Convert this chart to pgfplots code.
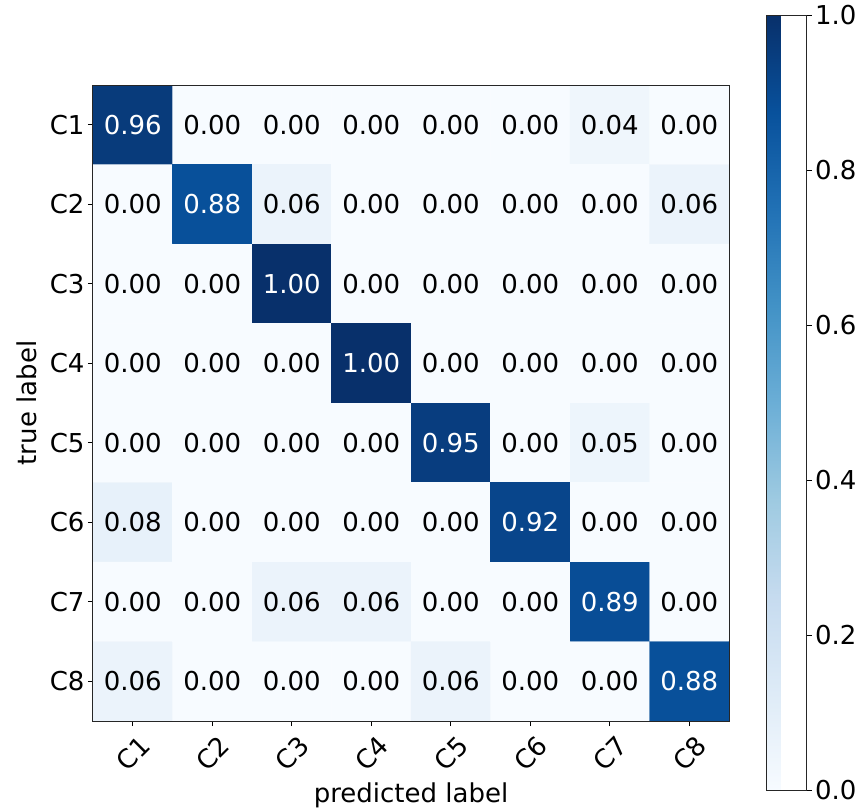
\documentclass[border=0pt]{standalone}
\usepackage{pgfplots}
\pgfplotsset{compat=1.18}
\usepackage{pgfplotstable}
\usepackage{fontspec}
\setmainfont{DejaVu Sans}
\newcommand{\fs}{\fontsize{26}{31}\selectfont}

\pgfplotstableread{
x y c
0 0 0.96
1 0 0.00
2 0 0.00
3 0 0.00
4 0 0.00
5 0 0.00
6 0 0.04
7 0 0.00
0 1 0.00
1 1 0.88
2 1 0.06
3 1 0.00
4 1 0.00
5 1 0.00
6 1 0.00
7 1 0.06
0 2 0.00
1 2 0.00
2 2 1.00
3 2 0.00
4 2 0.00
5 2 0.00
6 2 0.00
7 2 0.00
0 3 0.00
1 3 0.00
2 3 0.00
3 3 1.00
4 3 0.00
5 3 0.00
6 3 0.00
7 3 0.00
0 4 0.00
1 4 0.00
2 4 0.00
3 4 0.00
4 4 0.95
5 4 0.00
6 4 0.05
7 4 0.00
0 5 0.08
1 5 0.00
2 5 0.00
3 5 0.00
4 5 0.00
5 5 0.92
6 5 0.00
7 5 0.00
0 6 0.00
1 6 0.00
2 6 0.06
3 6 0.06
4 6 0.00
5 6 0.00
6 6 0.89
7 6 0.00
0 7 0.06
1 7 0.00
2 7 0.00
3 7 0.00
4 7 0.06
5 7 0.00
6 7 0.00
7 7 0.88
}\cm

\begin{document}
\begin{tikzpicture}
\begin{axis}[
  name=main,
  scale only axis,
  width=636pt, height=636pt,
  xmin=-0.5, xmax=7.5, ymin=-0.5, ymax=7.5,
  y dir=reverse,
  enlargelimits=false,
  axis on top,
  /pgf/number format/assume math mode=true,
  xtick={0,...,7}, ytick={0,...,7},
  xticklabels={C1,C2,C3,C4,C5,C6,C7,C8},
  yticklabels={C1,C2,C3,C4,C5,C6,C7,C8},
  xtick pos=left, ytick pos=left,
  tick align=outside,
  major tick length=5pt,
  tick style={black, line width=1pt},
  axis line style={black!85, line width=1pt},
  x tick label style={rotate=45, anchor=north east, font=\fs, yshift=-6pt, xshift=2pt},
  y tick label style={font=\fs},
  xlabel={predicted label}, ylabel={true label},
  xlabel style={font=\fs, yshift=-2pt},
  ylabel style={font=\fs, yshift=6pt},
  colormap={blues}{rgb255=(247,251,255) rgb255=(222,235,247) rgb255=(198,219,239) rgb255=(158,202,225) rgb255=(107,174,214) rgb255=(66,146,198) rgb255=(33,113,181) rgb255=(8,81,156) rgb255=(8,48,107)},
  point meta min=0, point meta max=1,
  colorbar,
  colorbar style={
    at={(parent axis.east)}, anchor=west, xshift=29pt,
    width=40pt, height=775pt,
    ytick={0,0.2,0.4,0.6,0.8,1},
    yticklabel style={font=\fs, /pgf/number format/.cd, fixed, zerofill, precision=1, assume math mode=true},
    tick align=outside,
    ytick pos=right, yticklabel pos=right,
    major tick length=5pt,
    tick style={black, line width=1pt},
    axis line style={black!85, line width=1pt},
  },
]
\addplot[matrix plot*, mesh/cols=8, point meta=explicit] table[x=x, y=y, meta=c] {\cm};
% dark text
\addplot[only marks, mark=*, mark size=0pt, mark options={draw=none, fill=none},
  point meta=explicit symbolic, nodes near coords,
  every node near coord/.append style={anchor=center, font=\fs, text=black},
] coordinates {
  (1,0)[0.00] (2,0)[0.00] (3,0)[0.00] (4,0)[0.00] (5,0)[0.00] (6,0)[0.04] (7,0)[0.00]
  (0,1)[0.00] (2,1)[0.06] (3,1)[0.00] (4,1)[0.00] (5,1)[0.00] (6,1)[0.00] (7,1)[0.06]
  (0,2)[0.00] (1,2)[0.00] (3,2)[0.00] (4,2)[0.00] (5,2)[0.00] (6,2)[0.00] (7,2)[0.00]
  (0,3)[0.00] (1,3)[0.00] (2,3)[0.00] (4,3)[0.00] (5,3)[0.00] (6,3)[0.00] (7,3)[0.00]
  (0,4)[0.00] (1,4)[0.00] (2,4)[0.00] (3,4)[0.00] (5,4)[0.00] (6,4)[0.05] (7,4)[0.00]
  (0,5)[0.08] (1,5)[0.00] (2,5)[0.00] (3,5)[0.00] (4,5)[0.00] (6,5)[0.00] (7,5)[0.00]
  (0,6)[0.00] (1,6)[0.00] (2,6)[0.06] (3,6)[0.06] (4,6)[0.00] (5,6)[0.00] (7,6)[0.00]
  (0,7)[0.06] (1,7)[0.00] (2,7)[0.00] (3,7)[0.00] (4,7)[0.06] (5,7)[0.00] (6,7)[0.00]
};
% white text
\addplot[only marks, mark=*, mark size=0pt, mark options={draw=none, fill=none},
  point meta=explicit symbolic, nodes near coords,
  every node near coord/.append style={anchor=center, font=\fs, text=white},
] coordinates {
  (0,0)[0.96] (1,1)[0.88] (2,2)[1.00] (3,3)[1.00] (4,4)[0.95] (5,5)[0.92] (6,6)[0.89] (7,7)[0.88]
};
\end{axis}
\pgfresetboundingbox
\path[use as bounding box] ([xshift=-93pt,yshift=-88pt]main.south west) rectangle ++(862pt,809pt);
\end{tikzpicture}
\end{document}
